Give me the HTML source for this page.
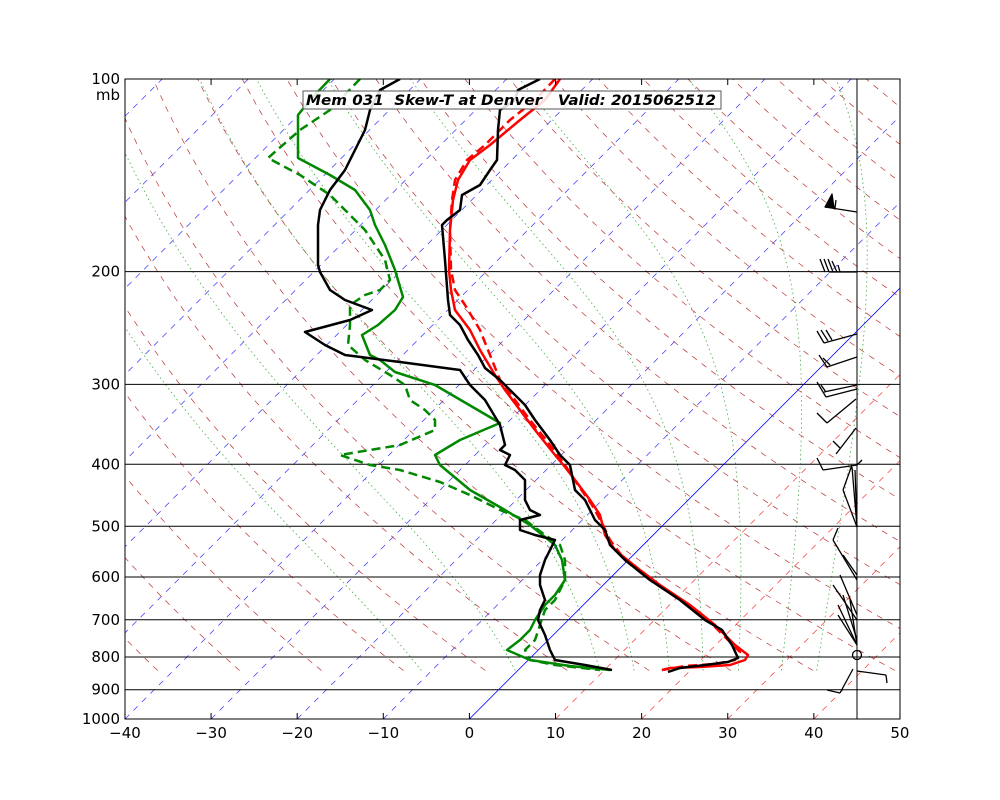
<!DOCTYPE html>
<html><head><meta charset="utf-8"><style>
html,body{margin:0;padding:0;background:#fff;}
svg{display:block;font-family:"DejaVu Sans","Liberation Sans",sans-serif;}
</style></head><body>
<svg id="s" width="1000" height="800" viewBox="0 0 1000 800" xmlns="http://www.w3.org/2000/svg">
<defs><clipPath id="c"><rect x="125" y="79" width="775" height="640"/></clipPath></defs>
<rect width="1000" height="800" fill="#fff"/>
<g id="bg" clip-path="url(#c)"></g>
<g clip-path="url(#c)" fill="none" stroke-linejoin="round">
<g stroke="#000" stroke-width="1">
<line x1="125" y1="271.6" x2="900" y2="271.6"/><line x1="125" y1="384.4" x2="900" y2="384.4"/>
<line x1="125" y1="464.3" x2="900" y2="464.3"/><line x1="125" y1="526.3" x2="900" y2="526.3"/>
<line x1="125" y1="577.0" x2="900" y2="577.0"/><line x1="125" y1="619.8" x2="900" y2="619.8"/>
<line x1="125" y1="657.0" x2="900" y2="657.0"/><line x1="125" y1="689.7" x2="900" y2="689.7"/>
<line x1="857" y1="79" x2="857" y2="719"/>
</g>
<line x1="469.4" y1="719" x2="910" y2="278" stroke="#00f" stroke-width="0.8"/>
<polyline stroke="#f00" stroke-width="2.5" stroke-dasharray="9,5" points="555,79 535,100 510,120 485,145 467,160 455,180 452,200 450,230 451,270 455,290 465,305 480,330 490,355 500,380 515,400 530,420 550,445 565,465 578,485 592,505 603,525 610,540 625,560 650,580 680,600 710,622 728,640 740,652 735,660 715,664 685,666 662,670"/>
<polyline stroke="#f00" stroke-width="2.5" points="560,79 545,100 520,120 490,145 470,160 458,180 453,200 450,230 449,270 451,290 455,310 470,330 480,350 495,375 505,390 520,410 535,430 555,455 565,467 575,480 590,500 600,515 605,535 615,550 640,570 660,585 690,605 715,625 735,645 748,655 745,660 730,665 700,667 670,668 662,670"/>
<polyline stroke="#000" stroke-width="2.5" points="540,79 518,90 515,100 500,110 498,130 497,160 490,170 480,185 462,195 460,210 447,220 442,225 445,260 448,300 450,315 460,325 468,340 478,355 485,368 500,380 510,390 525,405 535,420 550,440 560,455 570,465 575,490 585,500 595,520 605,530 610,545 625,560 650,580 680,600 705,620 722,630 732,645 738,658 728,662 705,665 680,668 668,672"/>
<polyline stroke="#080" stroke-width="2.5" stroke-dasharray="9,5" points="360,79 330,110 300,130 268,158 300,175 330,195 345,210 365,230 385,260 390,280 380,290 365,295 350,305 350,325 348,345 365,360 390,375 405,385 410,400 425,410 435,420 435,430 400,445 340,455 370,465 400,470 440,482 470,495 500,510 525,520 545,535 560,545 565,560 565,580 560,590 555,600 545,610 540,625 535,640 525,650 530,660 555,665 600,670"/>
<polyline stroke="#080" stroke-width="2.5" points="330,79 310,100 298,115 298,158 330,175 355,190 370,210 375,225 385,245 395,270 403,297 395,310 378,325 362,335 370,355 380,360 395,372 435,385 500,423 460,440 435,455 440,465 470,490 505,510 530,525 555,545 562,560 565,580 555,595 545,605 535,620 530,630 520,640 507,650 530,660 570,666 610,670"/>
<polyline stroke="#000" stroke-width="2.5" points="400,79 380,90 370,110 365,130 355,150 345,170 330,190 320,210 318,225 318,265 320,272 330,290 345,300 372,310 350,320 305,332 325,345 345,355 400,362 460,370 470,385 485,400 500,425 505,445 500,450 510,455 505,465 515,470 525,480 525,500 530,510 540,515 520,520 520,530 535,535 555,540 550,550 545,560 540,575 540,585 545,600 540,610 538,620 545,635 550,650 555,660 585,665 612,670"/>
<g stroke="#000" stroke-width="1.3">
<polyline points="857,212 825,207"/><polygon points="825,207 832,194 834,208" fill="#000"/><line x1="835" y1="208" x2="836" y2="200"/>
<line x1="857" y1="272" x2="829" y2="272"/><line x1="820" y1="259" x2="825" y2="272"/><line x1="824" y1="259" x2="829" y2="272"/><line x1="828" y1="259" x2="833" y2="272"/><line x1="832" y1="261" x2="837" y2="272"/><line x1="838" y1="265" x2="840" y2="272"/>
<line x1="857" y1="334" x2="824" y2="343"/><line x1="817" y1="331" x2="824" y2="343"/><line x1="821" y1="330" x2="828" y2="341"/><line x1="826" y1="330" x2="832" y2="340"/>
<line x1="857" y1="357" x2="827" y2="367"/><line x1="819" y1="355" x2="827" y2="367"/><line x1="823" y1="358" x2="830" y2="365"/>
<line x1="857" y1="385" x2="824" y2="392"/><line x1="857" y1="389" x2="826" y2="397"/><line x1="817" y1="382" x2="826" y2="397"/><line x1="821" y1="385" x2="826" y2="392"/>
<line x1="856" y1="399" x2="827" y2="423"/><line x1="817" y1="413" x2="827" y2="423"/>
<line x1="856" y1="428" x2="836" y2="454"/><line x1="833" y1="441" x2="840" y2="448"/>
<line x1="857" y1="465" x2="823" y2="470"/><line x1="817" y1="458" x2="823" y2="470"/><line x1="862" y1="460" x2="857" y2="465"/>
<line x1="852" y1="465" x2="843" y2="490"/><line x1="843" y1="490" x2="857" y2="527"/><line x1="852" y1="467" x2="857" y2="527"/><line x1="855" y1="470" x2="857" y2="527"/>
<line x1="838" y1="528" x2="833" y2="540"/><line x1="833" y1="540" x2="857" y2="580"/><line x1="843" y1="555" x2="857" y2="575"/>
<line x1="840" y1="575" x2="857" y2="615"/><line x1="833" y1="585" x2="857" y2="620"/><line x1="843" y1="595" x2="857" y2="640"/><line x1="838" y1="605" x2="857" y2="645"/><line x1="838" y1="615" x2="857" y2="645"/><line x1="850" y1="600" x2="857" y2="645"/>
<circle cx="857" cy="655" r="4.5" fill="none"/>
<line x1="857" y1="671" x2="886" y2="675"/><line x1="886" y1="675" x2="887" y2="683"/>
<line x1="853" y1="669" x2="840" y2="693"/><line x1="840" y1="693" x2="827" y2="690"/>
</g>
</g>
<rect x="125" y="79" width="775" height="640" fill="none" stroke="#000" stroke-width="1"/>
<rect x="303" y="91" width="418" height="18" fill="#fff" fill-opacity="0.85" stroke="#555" stroke-width="1"/>
<text x="306" y="105" font-size="14" font-weight="bold" font-style="italic" textLength="410" lengthAdjust="spacingAndGlyphs" xml:space="preserve">Mem 031  Skew-T at Denver   Valid: 2015062512</text>
<g id="ax" font-size="15" fill="#000"></g>
<script>
(function(){
var NS="http://www.w3.org/2000/svg";
function Y(p){return 79+640*Math.log10(p/100);}
function X(T,y){return 469.4+T*8.611+(719-y);}
var bg=document.getElementById('bg'),ax=document.getElementById('ax');
function pl(pts,st,w,da){var e=document.createElementNS(NS,'polyline');e.setAttribute('points',pts.join(' '));e.setAttribute('fill','none');e.setAttribute('stroke',st);e.setAttribute('stroke-width',w);if(da)e.setAttribute('stroke-dasharray',da);bg.appendChild(e);}
var PS=840;
for(var T=-150;T<=50;T+=10){if(T==0)continue;pl([X(T,719)+','+719,X(T,79)+','+79],T>0?'#f33':'#33f','0.7','6,6');}
for(var th=-40;th<=260;th+=10){var pts=[];for(var p=PS;p>=95;p-=10){var t=(th+273.15)*Math.pow(p/1000,0.286)-273.15;var y=Y(p);pts.push(X(t,y).toFixed(1)+','+y.toFixed(1));}pl(pts,'#b33','0.7','6,6');}
[-11.2,-0.3,9.5,13.5,17.6,21.5,25.6,30.6,34.7].forEach(function(t0){var pts=[],T=t0+273.15;for(var p=PS;p>=100;p-=2){var y=Y(p);pts.push(X(T-273.15,y).toFixed(1)+','+y.toFixed(1));var tc=T-273.15;var es=6.112*Math.exp(17.67*tc/(tc+243.5));var rs=0.622*es/(p-es);var num=287*T+2.5e6*rs;var den=1004+2.5e6*2.5e6*rs*0.622/(287*T*T);T+= -2*(num/den)/p;}pl(pts,'#4a4','0.8','1.5,3');});
function tx(x,y,s,a){var e=document.createElementNS(NS,'text');e.setAttribute('x',x);e.setAttribute('y',y);e.setAttribute('text-anchor',a);e.textContent=s;ax.appendChild(e);}
function ln(x1,y1,x2,y2){var e=document.createElementNS(NS,'line');e.setAttribute('x1',x1);e.setAttribute('y1',y1);e.setAttribute('x2',x2);e.setAttribute('y2',y2);e.setAttribute('stroke','#000');ax.appendChild(e);}
for(var t=-40;t<=50;t+=10){var x=469.4+t*8.611;tx(x,738,(t<0?'\u2212':'')+Math.abs(t),'middle');ln(x,719,x,713);ln(x,79,x,85);}
[100,200,300,400,500,600,700,800,900,1000].forEach(function(p){tx(120,Y(p)+5,String(p),'end');});
tx(120,100,'mb','end');
})();
</script>
</svg>
</body></html>
